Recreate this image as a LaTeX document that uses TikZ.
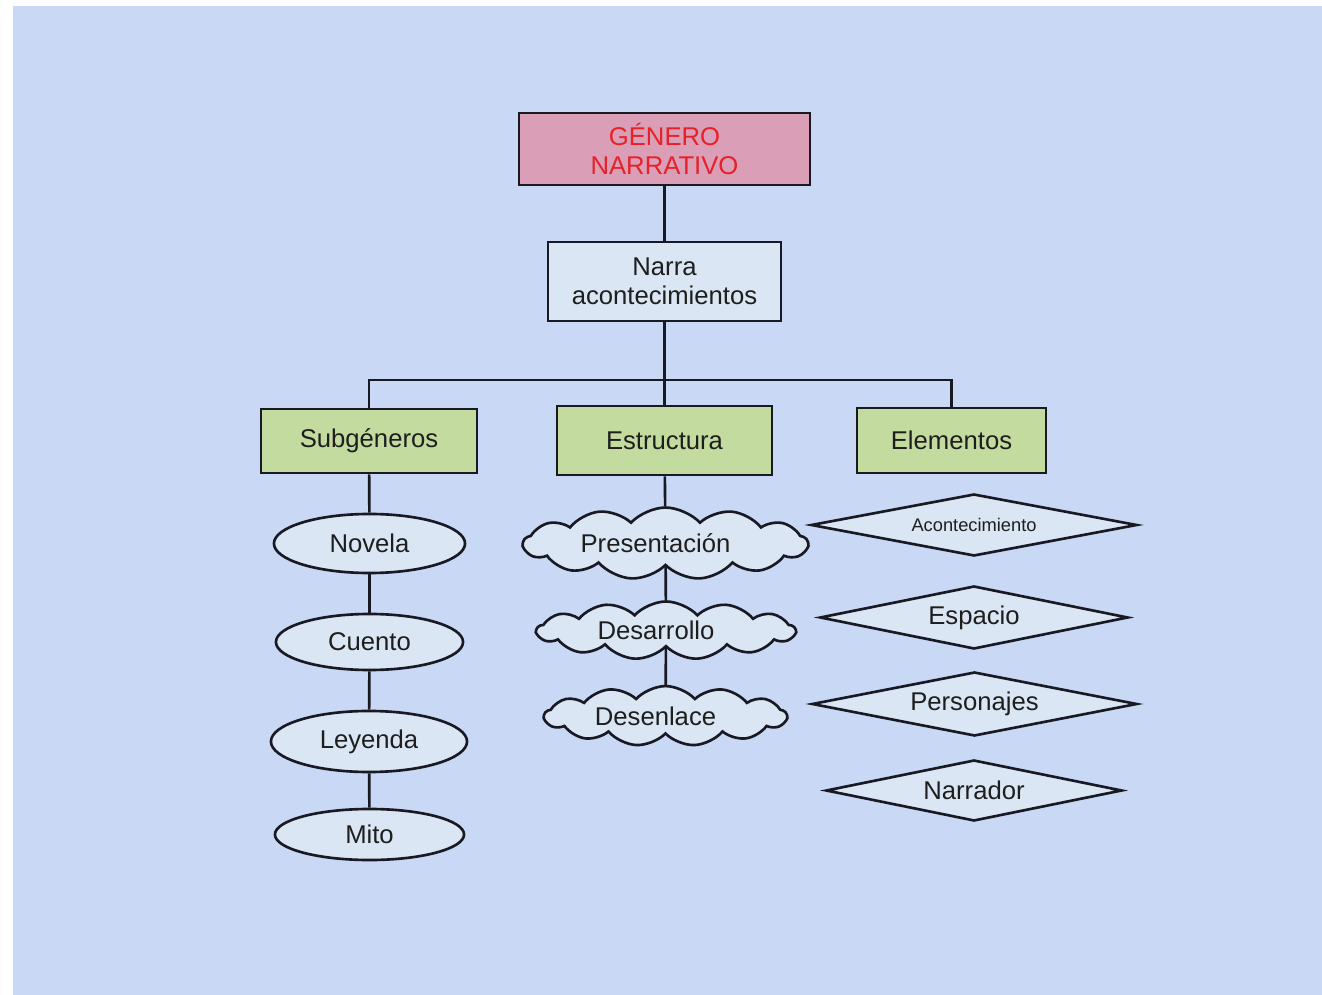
\documentclass[tikz,border=0pt]{standalone}
\usepackage{fontspec}
\setmainfont{Liberation Sans}
\usetikzlibrary{shapes.geometric,shapes.symbols}
\definecolor{bgc}{RGB}{201,217,245}
\definecolor{pinkf}{RGB}{218,158,182}
\definecolor{redt}{RGB}{232,32,40}
\definecolor{lightf}{RGB}{218,230,243}
\definecolor{greenf}{RGB}{196,219,160}
\definecolor{ink}{RGB}{30,30,30}
\definecolor{linec}{RGB}{25,25,35}
\tikzset{
  base/.style={draw=linec, line width=0.75pt, text=ink, inner sep=0pt, align=center,
    font=\fontsize{7.3}{8.3}\selectfont},
  topbox/.style={base, rectangle, fill=pinkf, text=redt},
  midbox/.style={base, rectangle, fill=lightf},
  catbox/.style={base, rectangle, fill=greenf},
  ovalnode/.style={base, ellipse, fill=lightf},
  cloudnode/.style={base, cloud, cloud puffs=13, cloud puff arc=95, aspect=5, fill=lightf},
  diamnode/.style={base, diamond, aspect=5, fill=lightf},
  conn/.style={draw=linec, line width=0.75pt}
}
\begin{document}
\begin{tikzpicture}[x=0.01cm,y=-0.01cm]
\useasboundingbox (0,0) rectangle (1322,995);
\fill[bgc] (13,6) rectangle (1322,995);

\node[topbox, minimum width=2.91cm, minimum height=0.72cm] (gen) at (664.5,149) {GÉNERO\\NARRATIVO};
\node[midbox, minimum width=2.33cm, minimum height=0.79cm] (narra) at (664.5,281.5) {Narra\\acontecimientos};

\node[catbox, minimum width=2.16cm, minimum height=0.64cm] (sub) at (369,441) {Subgéneros};
\node[catbox, minimum width=2.15cm, minimum height=0.69cm] (estr) at (664.5,440.5) {Estructura};
\node[catbox, minimum width=1.89cm, minimum height=0.65cm] (elem) at (951.5,440.5) {Elementos};
\coordinate (barc) at (664.5,380);

\node[ovalnode, minimum width=1.91cm, minimum height=0.59cm] (nov) at (369.5,543.5) {Novela};
\node[ovalnode, minimum width=1.87cm, minimum height=0.56cm] (cue) at (369.5,642) {Cuento};
\node[ovalnode, minimum width=1.96cm, minimum height=0.61cm] (ley) at (369,741.5) {Leyenda};
\node[ovalnode, minimum width=1.89cm, minimum height=0.51cm] (mito) at (369.5,834.5) {Mito};

\node[cloudnode, minimum width=2.84cm, minimum height=0.50cm] (pres) at (665.5,543.5) {Presentación\hspace*{0.2cm}};
\node[cloudnode, minimum width=2.58cm, minimum height=0.44cm] (desa) at (666,630.5) {Desarrollo\hspace*{0.2cm}};
\node[cloudnode, minimum width=2.42cm, minimum height=0.45cm] (dese) at (665.5,716) {Desenlace\hspace*{0.2cm}};

\node[diamnode, minimum width=3.26cm, minimum height=0.62cm, font=\fontsize{5.2}{6}\selectfont] (acon) at (974,525) {Acontecimiento};
\node[diamnode, minimum width=3.08cm, minimum height=0.63cm] (esp) at (974,617.5) {Espacio};
\node[diamnode, minimum width=3.25cm, minimum height=0.64cm] (pers) at (974.5,704) {Personajes};
\node[diamnode, minimum width=2.96cm, minimum height=0.61cm] (narr) at (974,790.5) {Narrador};

\draw[conn] (gen) -- (narra);
\draw[conn] (narra) -- (barc);
\draw[conn] (sub.north) |- (barc) -| (elem.north);
\draw[conn] (barc) -- (estr);
\draw[conn] (sub) -- (nov);
\draw[conn] (nov) -- (cue);
\draw[conn] (cue) -- (ley);
\draw[conn] (ley) -- (mito);
\draw[conn] (estr) -- (pres);
\draw[conn] (pres) -- (desa);
\draw[conn] (desa) -- (dese);
\end{tikzpicture}
\end{document}
